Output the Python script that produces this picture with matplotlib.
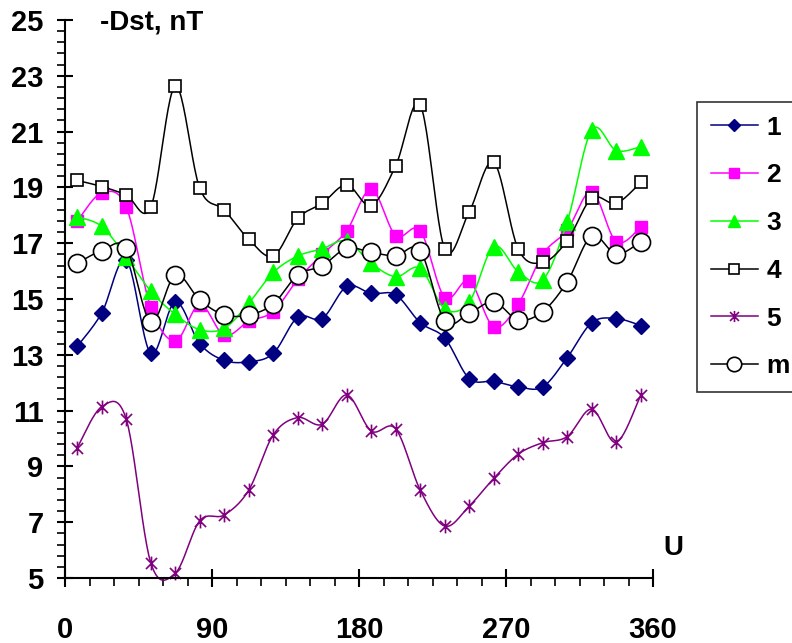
import numpy as np
import matplotlib
matplotlib.use("Agg")
import matplotlib.pyplot as plt
from matplotlib.path import Path
from matplotlib.ticker import MultipleLocator, FixedLocator

plt.rcParams['font.family'] = ['Liberation Sans', 'DejaVu Sans']
plt.rcParams['font.weight'] = 'bold'

# ---------------- data ----------------
U = [7.5 + 15 * k for k in range(24)]

s1 = [13.3, 14.5, 16.4, 13.05, 14.9, 13.4, 12.8, 12.75, 13.05, 14.35, 14.3, 15.45,
      15.2, 15.15, 14.15, 13.6, 12.15, 12.05, 11.85, 11.85, 12.9, 14.15, 14.3, 14.05]
s2 = [17.8, 18.8, 18.3, 14.7, 13.5, 14.8, 13.7, 14.2, 14.55, 15.7, 16.6, 17.45,
      18.93, 17.27, 17.45, 15.05, 15.65, 14.0, 14.82, 16.6, 17.47, 18.85, 17.05, 17.57]
s3 = [17.95, 17.6, 16.5, 15.28, 14.45, 13.9, 13.95, 14.85, 15.95, 16.54, 16.8, 17.08,
      16.28, 15.8, 16.1, 14.65, 14.9, 16.88, 15.98, 15.68, 17.77, 21.06, 20.32, 20.46]
s4 = [19.25, 19.03, 18.73, 18.29, 22.63, 18.97, 18.19, 17.14, 16.54, 17.89, 18.43, 19.09,
      18.35, 19.78, 21.95, 16.79, 18.13, 19.9, 16.79, 16.31, 17.09, 18.61, 18.43, 19.18]
s5 = [9.67, 11.14, 10.69, 5.55, 5.17, 7.05, 7.26, 8.15, 10.13, 10.75, 10.51, 11.56,
      10.27, 10.34, 8.15, 6.86, 7.58, 8.57, 9.44, 9.85, 10.07, 11.05, 9.86, 11.56]
sm = [16.28, 16.73, 16.82, 14.19, 15.86, 14.96, 14.43, 14.43, 14.82, 15.86, 16.19, 16.82,
      16.67, 16.55, 16.73, 14.22, 14.49, 14.9, 14.25, 14.55, 15.62, 17.26, 16.61, 17.05]

labels = ['1', '2', '3', '4', '5', 'm']
yticks = [5, 7, 9, 11, 13, 15, 17, 19, 21, 23, 25]


def smooth(x, y, n=24):
    # Catmull-Rom curve through the points (like Excel's smoothed line)
    x = np.asarray(x, float)
    y = np.asarray(y, float)
    px = np.concatenate([[x[0]], x, [x[-1]]])
    py = np.concatenate([[y[0]], y, [y[-1]]])
    t = np.linspace(0, 1, n, endpoint=False)
    xs, ys = [], []
    for i in range(len(x) - 1):
        for p, out in ((px, xs), (py, ys)):
            p0, p1, p2, p3 = p[i], p[i + 1], p[i + 2], p[i + 3]
            out.append(0.5 * (2 * p1 + (-p0 + p2) * t
                              + (2 * p0 - 5 * p1 + 4 * p2 - p3) * t ** 2
                              + (-p0 + 3 * p1 - 3 * p2 + p3) * t ** 3))
    xs.append([x[-1]])
    ys.append([y[-1]])
    return np.concatenate(xs), np.concatenate(ys)


# asterisk marker: vertical bar plus an X
star = Path([(0, -1), (0, 1), (-0.8, -0.8), (0.8, 0.8), (-0.8, 0.8), (0.8, -0.8)],
            [Path.MOVETO, Path.LINETO, Path.MOVETO, Path.LINETO, Path.MOVETO, Path.LINETO])

styles = [
    dict(color='#000080', marker='D', ms=8, mfc='#000080', mec='#000080'),
    dict(color='#ff00ff', marker='s', ms=9, mfc='#ff00ff', mec='#ff00ff'),
    dict(color='#00ff00', marker='^', ms=11, mfc='#00ff00', mec='#00ff00'),
    dict(color='black', marker='s', ms=9, mfc='white', mec='black', mew=1.2),
    dict(color='#800080', marker=star, ms=10, mfc='none', mec='#800080', mew=1.2),
    dict(color='black', marker='o', ms=13, mfc='white', mec='black', mew=1.2),
]

fig = plt.figure(figsize=(7.92, 6.43), dpi=100)
ax = fig.add_axes([65 / 792, 1 - 578 / 643, 588 / 792, 558 / 643])

handles = []
for ys, lab, st in zip([s1, s2, s3, s4, s5, sm], labels, styles):
    cx, cy = smooth(U, ys)
    ax.plot(cx, cy, color=st['color'], lw=1.1, clip_on=False)
    ax.plot(U, ys, ls='none', marker=st['marker'], ms=st['ms'], mfc=st['mfc'],
            mec=st['mec'], mew=st.get('mew', 1.0), clip_on=False)
    h, = ax.plot([], [], color=st['color'], lw=1.1, marker=st['marker'],
                 ms=st['ms'] * 0.8, mfc=st['mfc'], mec=st['mec'], mew=st.get('mew', 1.0))
    handles.append(h)

ax.set_xlim(0, 360)
ax.set_ylim(5, 25)
ax.xaxis.set_major_locator(MultipleLocator(90))
ax.xaxis.set_minor_locator(MultipleLocator(15))
ax.yaxis.set_major_locator(FixedLocator(yticks))
ax.yaxis.set_minor_locator(FixedLocator(np.arange(5, 25.01, 0.4)))

for s in ['top', 'right']:
    ax.spines[s].set_visible(False)
for s in ['left', 'bottom']:
    ax.spines[s].set_linewidth(1.5)

ax.tick_params(axis='x', which='major', direction='inout', length=13, width=1.5,
               pad=21, labelsize=21)
ax.tick_params(axis='y', which='major', direction='inout', length=11, width=1.5,
               pad=10, labelsize=21)
ax.tick_params(which='minor', direction='out', length=6, width=1.2)

ax.text(100 / 792, 1 - 22 / 643, '-Dst, nT', transform=fig.transFigure,
        fontsize=20, fontweight='bold', ha='left', va='center')
ax.text(673 / 792, 1 - 548 / 643, 'U', transform=fig.transFigure,
        fontsize=20, fontweight='bold', ha='center', va='center')

leg = fig.legend(handles, labels, loc='upper left', bbox_to_anchor=(697 / 792, 1 - 102 / 643),
                 borderaxespad=0, handlelength=1.8, handletextpad=0.3, labelspacing=0.9,
                 borderpad=0.52, fancybox=False, frameon=True,
                 prop={'weight': 'bold', 'size': 19})
leg.get_frame().set_edgecolor('black')
leg.get_frame().set_linewidth(1.2)

fig.savefig('out.png', dpi=100)
